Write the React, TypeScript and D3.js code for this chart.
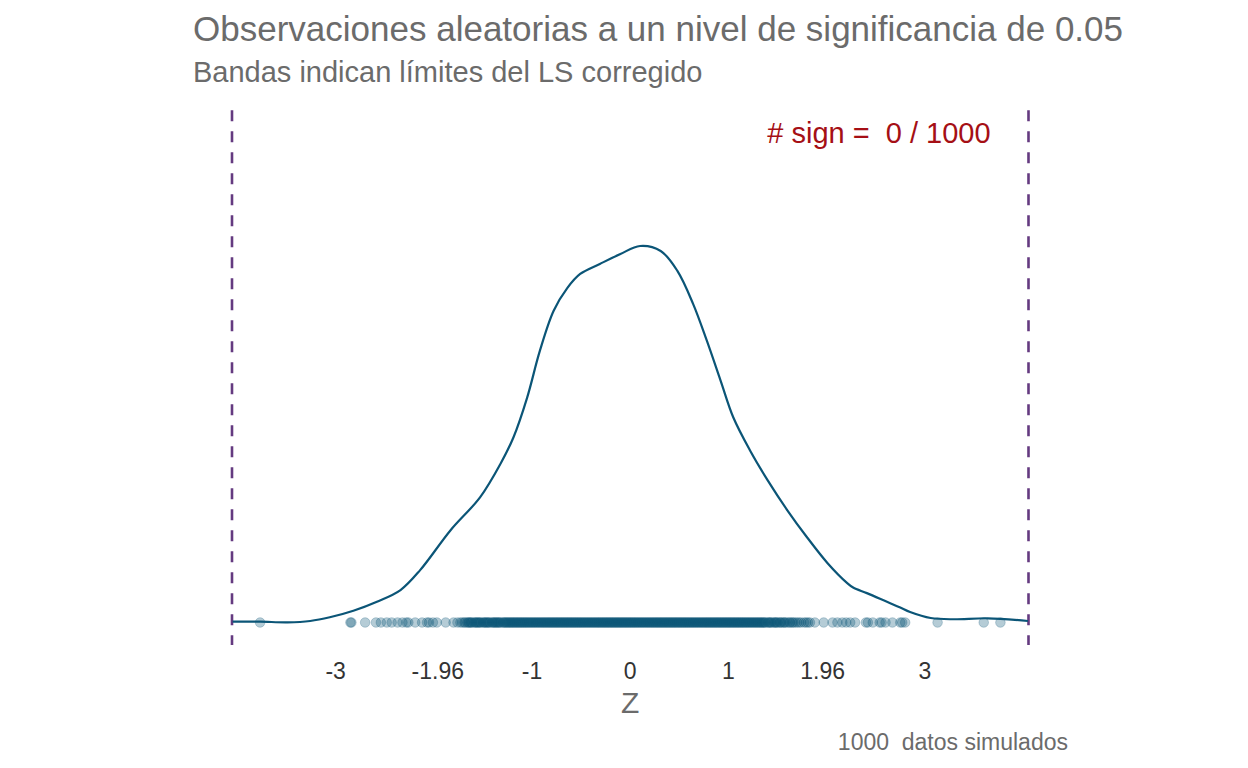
import * as d3 from "d3";
import { useEffect, useRef } from "react";

// Estimated kernel density curve (z, density)
const densityZ = [
  -4.05, -3.77, -3.49, -3.26, -3.06, -2.82, -2.58, -2.34, -2.14, -1.83, -1.53,
  -1.32, -1.19, -1.05, -0.92, -0.78, -0.64, -0.51, -0.31, -0.1, 0.1, 0.31, 0.48,
  0.64, 0.78, 0.92, 1.05, 1.22, 1.4, 1.6, 1.8, 2.01, 2.21, 2.27, 2.41, 2.62,
  2.75, 2.85, 3.06, 3.29, 3.64, 4.05,
];
const densityY = [
  0.0009, 0.0009, 0.0002, 0.0017, 0.0058, 0.0131, 0.0231, 0.0361, 0.0583,
  0.1027, 0.1393, 0.177, 0.2059, 0.2503, 0.3025, 0.3469, 0.3724, 0.3879, 0.399,
  0.4101, 0.419, 0.4135, 0.3913, 0.3546, 0.3136, 0.2692, 0.2281, 0.1915,
  0.1582, 0.1249, 0.0949, 0.066, 0.0438, 0.0389, 0.0327, 0.0228, 0.0167,
  0.0117, 0.005, 0.0036, 0.0047, 0.0017,
];

// Simulated observations (rug): tails read individually, centre estimated
const leftTail = [
  -3.77, -2.85, -2.84, -2.7, -2.59, -2.54, -2.48, -2.43, -2.37, -2.32, -2.28,
  -2.26, -2.19, -2.12, -2.07, -2.05, -2.01, -1.97, -1.88, -1.8,
];
const centreA = [
  -1.76, -1.73, -1.71, -1.69, -1.66, -1.64, -1.62, -1.59, -1.57, -1.55, -1.53,
  -1.5, -1.48, -1.46, -1.44, -1.41, -1.39, -1.37, -1.35, -1.33, -1.3, -1.28,
  -1.26, -1.24, -1.22, -1.2, -1.18, -1.16, -1.14, -1.12, -1.1, -1.08, -1.06,
  -1.04, -1.02, -1.0, -0.98, -0.97, -0.95, -0.93, -0.91, -0.89, -0.87, -0.85,
  -0.83, -0.81, -0.79, -0.77, -0.75, -0.73, -0.71, -0.69, -0.67, -0.65, -0.63,
  -0.61, -0.59, -0.57, -0.55, -0.53, -0.51, -0.49, -0.47, -0.45, -0.43, -0.41,
  -0.39, -0.37, -0.35, -0.33, -0.31, -0.29, -0.27, -0.25, -0.23, -0.21, -0.19,
  -0.17, -0.15, -0.13, -0.11, -0.09, -0.07, -0.05, -0.03, -0.01, 0.01, 0.03,
  0.05, 0.07, 0.09, 0.11, 0.13, 0.15, 0.17, 0.19, 0.21, 0.23, 0.25, 0.27, 0.29,
  0.31, 0.33, 0.35, 0.37, 0.39, 0.41, 0.43, 0.45, 0.47, 0.49, 0.51, 0.53, 0.55,
  0.57, 0.59, 0.61, 0.63, 0.65, 0.67, 0.69, 0.71, 0.73, 0.75, 0.77, 0.79, 0.81,
  0.83, 0.85, 0.87, 0.89, 0.91, 0.93, 0.95, 0.97, 0.99, 1.01, 1.03, 1.05, 1.07,
  1.09, 1.11, 1.13, 1.15, 1.17, 1.19, 1.21, 1.23, 1.25, 1.27, 1.29, 1.31, 1.33,
  1.35, 1.37, 1.4, 1.42, 1.44, 1.47, 1.49, 1.52, 1.54, 1.57, 1.6, 1.63, 1.66,
  1.7, 1.74, 1.79, 1.83,
];
const centreB = [
  -1.68, -1.65, -1.63, -1.61, -1.58, -1.56, -1.54, -1.52, -1.49, -1.47, -1.45,
  -1.43, -1.4, -1.38, -1.36, -1.34, -1.32, -1.29, -1.27, -1.25, -1.23, -1.21,
  -1.19, -1.17, -1.15, -1.13, -1.11, -1.09, -1.07, -1.05, -1.03, -1.01, -0.99,
  -0.96, -0.94, -0.92, -0.9, -0.88, -0.86, -0.84, -0.82, -0.8, -0.78, -0.76,
  -0.74, -0.72, -0.7, -0.68, -0.66, -0.64, -0.62, -0.6, -0.58, -0.56, -0.54,
  -0.52, -0.5, -0.48, -0.46, -0.44, -0.42, -0.4, -0.38, -0.36, -0.34, -0.32,
  -0.3, -0.28, -0.26, -0.24, -0.22, -0.2, -0.18, -0.16, -0.14, -0.12, -0.1,
  -0.08, -0.06, -0.04, -0.02, 0.0, 0.02, 0.04, 0.06, 0.08, 0.1, 0.12, 0.14,
  0.16, 0.18, 0.2, 0.22, 0.24, 0.26, 0.28, 0.3, 0.32, 0.34, 0.36, 0.38, 0.4,
  0.42, 0.44, 0.46, 0.48, 0.5, 0.52, 0.54, 0.56, 0.58, 0.6, 0.62, 0.64, 0.66,
  0.68, 0.7, 0.72, 0.74, 0.76, 0.78, 0.8, 0.82, 0.84, 0.86, 0.88, 0.9, 0.92,
  0.94, 0.96, 0.98, 1.0, 1.02, 1.04, 1.06, 1.08, 1.1, 1.12, 1.14, 1.16, 1.18,
  1.2, 1.22, 1.24, 1.26, 1.28, 1.3, 1.32, 1.34, 1.36, 1.38, 1.41, 1.43, 1.46,
  1.48, 1.5, 1.53, 1.56, 1.58, 1.62, 1.65, 1.68, 1.72, 1.77, 1.81,
];
const rightTail = [
  1.88, 1.97, 2.06, 2.11, 2.16, 2.2, 2.24, 2.29, 2.4, 2.42, 2.47, 2.54, 2.56,
  2.6, 2.67, 2.75, 2.77, 2.8, 3.13, 3.6, 3.77,
];

const tickValues = [-3, -1.96, -1, 0, 1, 1.96, 3];
const tickLabels = ["-3", "-1.96", "-1", "0", "1", "1.96", "3"];
const limit = 4.056; // corrected critical value
const labelZ = 3.67;
const labelY = 0.545;

export default function App() {
  const ref = useRef<HTMLDivElement>(null);

  useEffect(() => {
    if (!ref.current) return;
    document.body.style.margin = "0";

    const width = 1248;
    const height = 768;
    const font = "'Liberation Sans', Arial, sans-serif";

    ref.current.innerHTML = "";
    const svg = d3
      .select(ref.current)
      .append("svg")
      .attr("width", width)
      .attr("height", height)
      .style("display", "block")
      .style("font-family", font);

    const x = d3.scaleLinear().domain([-limit, limit]).range([232, 1028.5]);
    const y = d3.scaleLinear().domain([0, 0.42]).range([622.5, 245.1]);

    const yTop = y(labelY * 1.046);
    const yBottom = y(-labelY * 0.046);

    // Titles
    svg
      .append("text")
      .attr("x", 193)
      .attr("y", 41)
      .style("font-size", "35px")
      .style("fill", "#6b6b6b")
      .text("Observaciones aleatorias a un nivel de significancia de 0.05");

    svg
      .append("text")
      .attr("x", 193)
      .attr("y", 82)
      .style("font-size", "29px")
      .style("fill", "#6b6b6b")
      .text("Bandas indican límites del LS corregido");

    // Corrected limits
    svg
      .selectAll(".limit")
      .data([-limit, limit])
      .join("line")
      .attr("class", "limit")
      .attr("x1", (d) => x(d))
      .attr("x2", (d) => x(d))
      .attr("y1", yTop)
      .attr("y2", yBottom)
      .attr("stroke", "#643a80")
      .attr("stroke-width", 2.6)
      .attr("stroke-dasharray", "11,10");

    // Rug points
    const obs = [...leftTail, ...centreA, ...centreB, ...rightTail];
    svg
      .append("g")
      .selectAll("circle")
      .data(obs)
      .join("circle")
      .attr("cx", (d) => x(d))
      .attr("cy", y(0))
      .attr("r", 4.8)
      .attr("fill", "#0b5577")
      .attr("fill-opacity", 0.3)
      .attr("stroke", "#0b5577")
      .attr("stroke-opacity", 0.3)
      .attr("stroke-width", 0.8);

    // Density curve
    const line = d3
      .line<number>()
      .x((d, i) => x(densityZ[i]))
      .y((d) => y(d))
      .curve(d3.curveCatmullRom.alpha(0.5));

    svg
      .append("path")
      .attr("d", line(densityY))
      .attr("fill", "none")
      .attr("stroke", "#0b5577")
      .attr("stroke-width", 2.2);

    // Annotation
    svg
      .append("text")
      .attr("x", x(labelZ))
      .attr("y", y(labelY))
      .attr("dy", "0.35em")
      .attr("text-anchor", "end")
      .attr("xml:space", "preserve")
      .style("white-space", "pre")
      .style("font-size", "29px")
      .style("fill", "#a50f15")
      .text("# sign =  0 / 1000");

    // X axis labels
    svg
      .append("g")
      .selectAll("text")
      .data(tickValues)
      .join("text")
      .attr("x", (d) => x(d))
      .attr("y", 679)
      .attr("text-anchor", "middle")
      .style("font-size", "23px")
      .style("fill", "#333333")
      .text((d, i) => tickLabels[i]);

    svg
      .append("text")
      .attr("x", x(0))
      .attr("y", 713)
      .attr("text-anchor", "middle")
      .style("font-size", "30px")
      .style("fill", "#6b6b6b")
      .text("Z");

    // Caption
    svg
      .append("text")
      .attr("x", 1068)
      .attr("y", 750)
      .attr("text-anchor", "end")
      .attr("xml:space", "preserve")
      .style("white-space", "pre")
      .style("font-size", "23px")
      .style("fill", "#6b6b6b")
      .text("1000  datos simulados");
  }, []);

  return <div ref={ref} />;
}
